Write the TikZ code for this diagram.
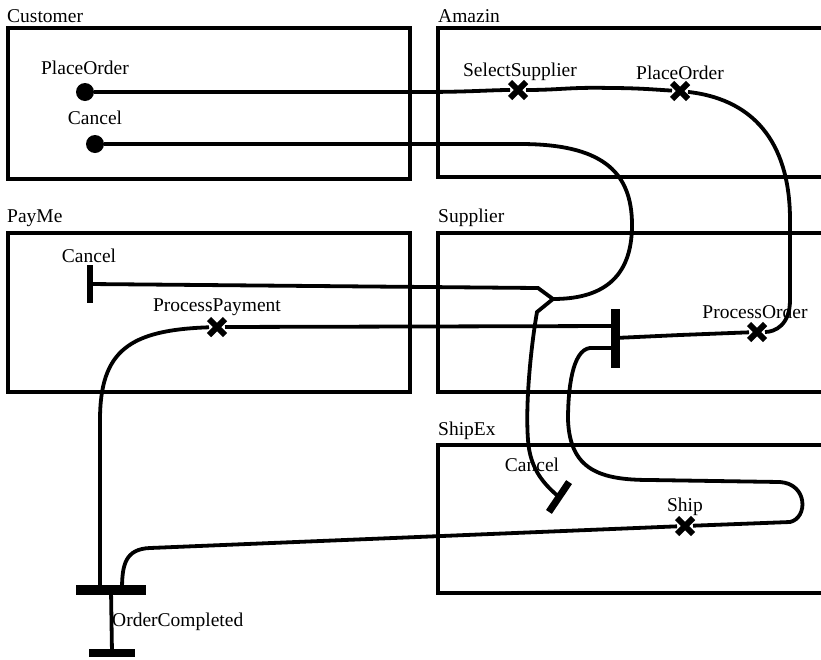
\documentclass[tikz,border=0pt]{standalone}
\usepackage{fontspec}
\setmainfont{Liberation Serif}
\usetikzlibrary{shapes.misc}

\begin{document}
\begin{tikzpicture}[x=1pt,y=-1pt,
  lane/.style={draw,line width=4pt},
  title/.style={anchor=south west,inner sep=1pt,font=\fontsize{19.5}{21}\selectfont},
  lbl/.style={inner sep=1pt,font=\fontsize{19.5}{21}\selectfont},
  wire/.style={line width=3.8pt},
  start/.style={circle,fill,inner sep=0pt,minimum size=18pt},
  act/.style={cross out,draw,line width=6pt,inner sep=0pt,minimum size=10pt},
  bar/.style={fill,inner sep=0pt}
]
  \useasboundingbox (0,0) rectangle (821,659);
  % lanes
  \draw[lane] (8,28) rectangle (410,179);
  \node[title] (tcust) at (6,24) {Customer};
  \draw[lane] (438,28) rectangle (840,177);
  \node[title] (tamaz) at (437,24) {Amazin};
  \draw[lane] (8,233) rectangle (410,392);
  \node[title] (tpay) at (6,228) {PayMe};
  \draw[lane] (438,233) rectangle (840,392);
  \node[title] (tsupp) at (437,228) {Supplier};
  \draw[lane] (438,445) rectangle (840,593);
  \node[title] (tship) at (437,441) {ShipEx};
  % Customer
  \node[start] (cplace) at (85,92) {};
  \node[lbl] at (85,68) {PlaceOrder};
  \node[start] (ccancel) at (95,144) {};
  \node[lbl] at (95,118) {Cancel};
  % Amazin
  \node[act] (select) at (518,90) {};
  \node[lbl] at (520,72) {SelectSupplier};
  \node[act] (aplace) at (680,91) {};
  \node[lbl] at (680,73) {PlaceOrder};
  % PayMe
  \node[bar,minimum width=6pt,minimum height=38pt] (pcancel) at (90,284) {};
  \node[lbl] at (89,256) {Cancel};
  \node[act] (payment) at (217,327) {};
  \node[lbl] at (217,307) {ProcessPayment};
  % Supplier
  \node[bar,minimum width=9pt,minimum height=59pt] (sbar) at (615,338) {};
  \node[act] (process) at (757,332) {};
  \node[lbl] at (755,312) {ProcessOrder};
  % ShipEx
  \node[bar,minimum width=36pt,minimum height=7pt,rotate=56] (scancel) at (559,497) {};
  \node[lbl] at (532,465) {Cancel};
  \node[act] (ship) at (685,526) {};
  \node[lbl] at (685,507) {Ship};
  % order completed
  \node[bar,minimum width=70pt,minimum height=10pt] (done) at (111,590) {};
  \node[bar,minimum width=46pt,minimum height=8pt] (end) at (112,653) {};
  \node[lbl,anchor=west] at (111,622) {OrderCompleted};
  \coordinate (split) at (553,299);
  % flows
  \draw[wire] (cplace) -- (420,92) .. controls (470,92) and (490,90) .. (select)
    .. controls (560,90) and (570,87) .. (610,88) .. controls (640,88) and (660,90) .. (aplace)
    .. controls (760,100) and (790,150) .. (790,220) -- (790,300)
    .. controls (790,325) and (775,332) .. (process);
  \draw[wire] (ccancel) -- (520,144) .. controls (600,144) and (632,170) .. (632,225)
    .. controls (632,280) and (600,299) .. (split);
  \draw[wire] (split) -- (538,288) -- (pcancel.center);
  \draw[wire] (split) -- (537,312) .. controls (532,340) and (525,400) .. (528,440)
    .. controls (530,470) and (545,485) .. (scancel.center);
  \draw[wire] (sbar.center) ++(0,-12) -- (payment)
    .. controls (130,330) and (100,350) .. (100,420) -- (100,590);
  \draw[wire] (sbar.center) -- (680,335) -- (process);
  \draw[wire] (sbar.center) ++(0,10) -- (590,348) .. controls (572,350) and (568,390) .. (568,420)
    .. controls (570,470) and (600,480) .. (650,480) -- (780,482)
    .. controls (808,484) and (808,518) .. (790,522) -- (ship)
    -- (150,548) .. controls (125,549) and (122,565) .. (122,590);
  \draw[wire] (done.center) -- (end.center);
\end{tikzpicture}
\end{document}
